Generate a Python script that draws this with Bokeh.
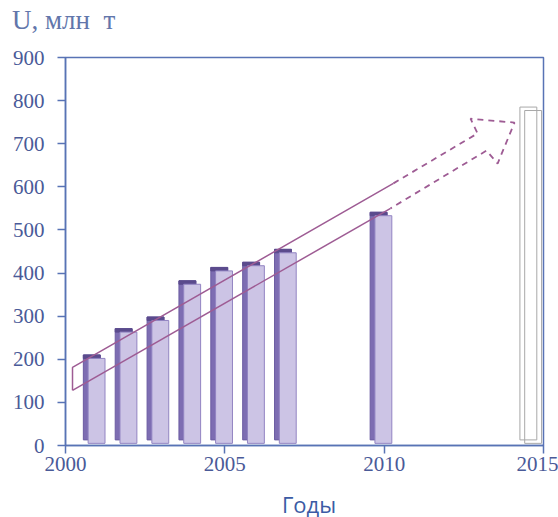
from bokeh.plotting import figure
from bokeh.models import FixedTicker, Range1d, Div
from bokeh.layouts import column
from bokeh.embed import file_html
from bokeh.resources import INLINE

# Uranium production, million tonnes
years = [2001, 2002, 2003, 2004, 2005, 2006, 2007, 2010]
production = [210, 271, 298, 382, 413, 425, 455, 541]

# Forecast level
forecast_years = [2015]
forecast = [785]

# Trend arrow outline (solid part, then dashed continuation with head)
trend_upper_x = [2000.22, 2000.22, 2010.29]
trend_upper_y = [128, 181, 608]
trend_lower_x = [2000.22, 2010.2]
trend_lower_y = [128, 550]
trend_head_x = [2010.29, 2012.93, 2012.71, 2014.09, 2013.56, 2013.21, 2010.2]
trend_head_y = [608, 724, 758, 749, 654, 684, 550]

x_ticks = [2000, 2005, 2010, 2015]
y_ticks = [0, 100, 200, 300, 400, 500, 600, 700, 800, 900]

AXIS = "#5873b5"
TICK_TEXT = "#4a5a98"
TREND = "#9e5c94"
SERIF = "Liberation Serif"

# Unit caption over the value axis
unit_caption = Div(text="U, млн&nbsp;&nbsp;т", width=558, height=40, margin=0,
                   styles={"font-family": SERIF, "font-size": "27px",
                           "color": "#6276ab", "line-height": "40px",
                           "padding-left": "12px", "white-space": "nowrap"})

p = figure(width=558, height=450, output_backend="svg", toolbar_location=None,
           x_range=Range1d(2000, 2015), y_range=Range1d(0, 900),
           min_border_left=65, min_border_right=15, min_border_top=17,
           min_border_bottom=45, margin=0)
p.background_fill_color = "white"
p.border_fill_color = "white"
p.xgrid.visible = False
p.ygrid.visible = False
p.outline_line_color = AXIS
p.outline_line_width = 1.5

for ax in (p.xaxis[0], p.yaxis[0]):
    ax.axis_line_color = AXIS
    ax.axis_line_width = 1.5
    ax.major_tick_line_color = AXIS
    ax.major_tick_line_width = 1.5
    ax.major_tick_out = 8
    ax.major_tick_in = 0
    ax.minor_tick_line_color = None
    ax.major_label_text_font = SERIF
    ax.major_label_text_font_size = "21px"
    ax.major_label_text_color = TICK_TEXT

p.xaxis.ticker = FixedTicker(ticks=x_ticks)
p.yaxis.ticker = FixedTicker(ticks=y_ticks)
p.yaxis.major_label_standoff = 13
p.xaxis.major_label_standoff = 3

# 3D-style bars: darker back block shifted up-left, light front face
w = 0.68
shift = -0.1
dx = 0.15
dy = 8
base = 5
left = [y + shift - w / 2 for y in years]
right = [y + shift + w / 2 for y in years]
p.quad(left=left, right=[r - dx for r in right], bottom=[base + dy] * len(years),
       top=production, fill_color="#7d6db2", line_color="#6c5ca2", line_width=1)
p.quad(left=left, right=[r - dx for r in right], bottom=[v - dy for v in production],
       top=production, fill_color="#5b4b8d", line_color="#5b4b8d", line_width=1)
p.quad(left=[l + dx for l in left], right=right, bottom=[base] * len(years),
       top=[v - dy for v in production], fill_color="#ccc4e5",
       line_color="#9284c2", line_width=1)

# Forecast bar drawn as an empty outline
fshift = -0.4
fl = [y + fshift - w / 2 for y in forecast_years]
fr = [y + fshift + w / 2 for y in forecast_years]
p.quad(left=fl, right=[r - dx for r in fr], bottom=[base + dy] * len(forecast),
       top=forecast, fill_color=None, line_color="#a8a8a8", line_width=1)
p.quad(left=[l + dx for l in fl], right=fr, bottom=[base] * len(forecast),
       top=[v - dy for v in forecast], fill_color=None, line_color="#a8a8a8",
       line_width=1)

# Trend arrow
p.line(trend_upper_x, trend_upper_y, line_color=TREND, line_width=1.5)
p.line(trend_lower_x, trend_lower_y, line_color=TREND, line_width=1.5)
p.line(trend_head_x, trend_head_y, line_color=TREND, line_width=1.8,
       line_dash="6 5")

# Year caption under the time axis
year_caption = Div(text="Годы", width=558, height=27, margin=0,
                   styles={"font-family": "Open Sans", "font-size": "22px",
                           "color": "#3b5ba5", "line-height": "26px",
                           "padding-top": "1px", "text-align": "center",
                           "padding-left": "60px", "box-sizing": "border-box",
                           "white-space": "nowrap"})

layout = column(unit_caption, p, year_caption, spacing=0)

open("out.html", "w").write(file_html(layout, INLINE))
